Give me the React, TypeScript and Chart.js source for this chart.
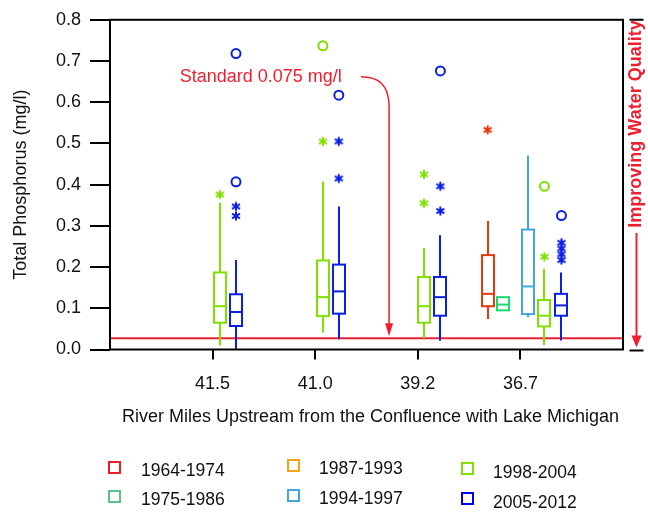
import React, { useEffect, useRef } from 'react';
import { Chart, registerables } from 'chart.js';

Chart.register(...registerables);

// ---------------- DATA ----------------
const categories = ['41.5', '41.0', '39.2', '36.7'];
const seriesNames = ['1964-1974', '1975-1986', '1987-1993', '1994-1997', '1998-2004', '2005-2012'];
const yTickValues = [0, 0.1, 0.2, 0.3, 0.4, 0.5, 0.6, 0.7, 0.8];
const standardValue = 0.027;

// box stats per category: [lower whisker, Q1, median, Q3, upper whisker]
const box1964 = [null, null, null, [0.074, 0.105, 0.135, 0.229, 0.312]];
const box1975 = [null, null, null, [0.095, 0.095, 0.109, 0.127, 0.127]];
const box1987 = [null, null, null, null];
const box1994 = [null, null, null, [0.078, 0.086, 0.153, 0.291, 0.471]];
const box1998 = [
  [0.01, 0.065, 0.105, 0.187, 0.356],
  [0.041, 0.081, 0.127, 0.216, 0.407],
  [0.028, 0.065, 0.105, 0.176, 0.246],
  [0.011, 0.056, 0.082, 0.12, 0.196],
];
const box2005 = [
  [0.002, 0.057, 0.091, 0.134, 0.217],
  [0.025, 0.087, 0.141, 0.206, 0.347],
  [0.021, 0.082, 0.127, 0.176, 0.277],
  [0.022, 0.082, 0.107, 0.135, 0.187],
];

// outliers per category
const circles1998 = [[], [0.737], [], [0.396]];
const stars1998 = [[0.376], [0.505], [0.425, 0.355], [0.225]];
const circles2005 = [[0.718, 0.407], [0.617], [0.676], [0.325]];
const stars2005 = [[0.347, 0.324], [0.505, 0.415], [0.396, 0.336], [0.259, 0.245, 0.231, 0.217]];
const stars1964 = [[], [], [], [0.533]];

// ---------------- LAYOUT / STYLE ----------------
const boxSeries = [box1964, box1975, box1987, box1994, box1998, box2005];
// horizontal offset of each box from its category tick (axis units)
const slotOffsets = [
  [0, 0, 0, -0.32],
  [0, 0, 0, -0.165],
  [0, 0, 0, 0],
  [0, 0, 0, 0.078],
  [0.07, 0.075, 0.06, 0.234],
  [0.228, 0.23, 0.22, 0.4],
];
const plotColors = ['#e8380e', '#18dc72', '#f7a21b', '#45a5dc', '#80e000', '#0a1ee6'];
const legendColors = ['#ec1c2a', '#5cc28a', '#f7a21b', '#45a5dc', '#80e000', '#0000f0'];
const RED = '#ee2030';
const FONT = "'Liberation Sans', Arial, sans-serif";

const legendLayout = [
  { sq: [108, 461], tx: [141, 470] },
  { sq: [108, 490], tx: [141, 499] },
  { sq: [287, 459], tx: [319, 468] },
  { sq: [287, 489], tx: [319, 498] },
  { sq: [461, 462], tx: [493, 471.5] },
  { sq: [461, 492], tx: [493, 502] },
];

function makeStar(color: string) {
  const c = document.createElement('canvas');
  const s = 12;
  c.width = s;
  c.height = s;
  const g = c.getContext('2d')!;
  g.strokeStyle = color;
  g.lineWidth = 2;
  const r = 4.6;
  const cx = s / 2;
  const cy = s / 2;
  for (const a of [90, 30, 150]) {
    const rad = (a * Math.PI) / 180;
    g.beginPath();
    g.moveTo(cx - r * Math.cos(rad), cy - r * Math.sin(rad));
    g.lineTo(cx + r * Math.cos(rad), cy + r * Math.sin(rad));
    g.stroke();
  }
  return c;
}

function pts(series: number[][], si: number) {
  const out: { x: number; y: number }[] = [];
  series.forEach((vals, ci) => vals.forEach((v) => out.push({ x: ci + 1 + slotOffsets[si][ci], y: v })));
  return out;
}

const boxPlugin = {
  id: 'boxes',
  beforeDatasetsDraw(chart: any) {
    const { ctx, chartArea, scales } = chart;
    const x = scales.x;
    const y = scales.y;
    ctx.save();
    // standard line
    const ys = y.getPixelForValue(standardValue);
    ctx.strokeStyle = RED;
    ctx.lineWidth = 2;
    ctx.beginPath();
    ctx.moveTo(chartArea.left, ys);
    ctx.lineTo(chartArea.right, ys);
    ctx.stroke();
    // boxes
    const halfW = 6;
    boxSeries.forEach((arr, si) => {
      arr.forEach((b: any, ci: number) => {
        if (!b) return;
        const cx = Math.round(x.getPixelForValue(ci + 1 + slotOffsets[si][ci]));
        const [lo, q1, md, q3, hi] = b.map((v: number) => y.getPixelForValue(v));
        ctx.strokeStyle = plotColors[si];
        ctx.lineWidth = 2;
        ctx.beginPath();
        if (hi < q3) {
          ctx.moveTo(cx, q3);
          ctx.lineTo(cx, hi);
        }
        if (lo > q1) {
          ctx.moveTo(cx, q1);
          ctx.lineTo(cx, lo);
        }
        ctx.stroke();
        ctx.fillStyle = '#ffffff';
        ctx.fillRect(cx - halfW, q3, halfW * 2, q1 - q3);
        ctx.strokeRect(cx - halfW, q3, halfW * 2, q1 - q3);
        ctx.beginPath();
        ctx.moveTo(cx - halfW, md);
        ctx.lineTo(cx + halfW, md);
        ctx.stroke();
      });
    });
    ctx.restore();
  },
  afterDraw(chart: any) {
    const { ctx, chartArea, scales } = chart;
    const x = scales.x;
    const y = scales.y;
    ctx.save();
    // frame
    ctx.strokeStyle = '#000';
    ctx.lineWidth = 2;
    ctx.strokeRect(chartArea.left, chartArea.top, chartArea.right - chartArea.left, chartArea.bottom - chartArea.top);

    // axis titles
    ctx.fillStyle = '#111';
    ctx.font = `18px ${FONT}`;
    ctx.textAlign = 'center';
    ctx.textBaseline = 'middle';
    ctx.fillText('River Miles Upstream from the Confluence with Lake Michigan', (chartArea.left + chartArea.right) / 2 + 4, chartArea.bottom + 68);
    ctx.save();
    ctx.translate(21, (chartArea.top + chartArea.bottom) / 2);
    ctx.rotate(-Math.PI / 2);
    ctx.fillText('Total Phosphorus (mg/l)', 0, 0);
    ctx.restore();

    // standard annotation
    ctx.fillStyle = RED;
    ctx.strokeStyle = RED;
    ctx.textAlign = 'left';
    ctx.fillText('Standard 0.075 mg/l', x.getPixelForValue(0.68), y.getPixelForValue(0.661));
    const sx = x.getPixelForValue(2.445);
    const sy = y.getPixelForValue(0.662);
    const ax = x.getPixelForValue(2.72);
    const tip = y.getPixelForValue(standardValue) - 2;
    ctx.lineWidth = 1.5;
    ctx.beginPath();
    ctx.moveTo(sx, sy);
    ctx.bezierCurveTo(sx + 18, sy, ax - 1, sy + 8, ax, sy + 28);
    ctx.lineTo(ax, tip - 12);
    ctx.stroke();
    ctx.beginPath();
    ctx.moveTo(ax - 4, tip - 13);
    ctx.lineTo(ax + 4, tip - 13);
    ctx.lineTo(ax, tip);
    ctx.closePath();
    ctx.fill();

    // improving water quality arrow
    const rx = chartArea.right + 13.5;
    ctx.strokeStyle = '#000';
    ctx.lineWidth = 2;
    ctx.beginPath();
    ctx.moveTo(rx - 7, chartArea.top);
    ctx.lineTo(rx + 7, chartArea.top);
    ctx.moveTo(rx - 7, chartArea.bottom + 1);
    ctx.lineTo(rx + 7, chartArea.bottom + 1);
    ctx.stroke();
    ctx.save();
    ctx.translate(rx, 124);
    ctx.rotate(-Math.PI / 2);
    ctx.fillStyle = RED;
    ctx.font = `bold 18px ${FONT}`;
    ctx.textAlign = 'center';
    ctx.textBaseline = 'middle';
    ctx.fillText('Improving Water Quality', 0, 0);
    ctx.restore();
    ctx.strokeStyle = RED;
    ctx.fillStyle = RED;
    ctx.lineWidth = 2;
    ctx.beginPath();
    ctx.moveTo(rx, 233);
    ctx.lineTo(rx, chartArea.bottom - 12);
    ctx.stroke();
    ctx.beginPath();
    ctx.moveTo(rx - 5, chartArea.bottom - 14);
    ctx.lineTo(rx + 5, chartArea.bottom - 14);
    ctx.lineTo(rx, chartArea.bottom - 2);
    ctx.closePath();
    ctx.fill();
    ctx.restore();
  },
};

export default function App() {
  const ref = useRef<HTMLCanvasElement>(null);

  useEffect(() => {
    const canvas = ref.current;
    if (!canvas) return;
    Chart.defaults.font.family = FONT;
    Chart.defaults.color = '#111';

    const circleDs = (vals: number[][], si: number) => ({
      data: pts(vals, si),
      pointStyle: 'circle',
      pointRadius: 4.5,
      borderWidth: 2,
      borderColor: plotColors[si],
      backgroundColor: 'rgba(255,255,255,0)',
      showLine: false,
    });
    const starDs = (vals: number[][], si: number) => ({
      data: pts(vals, si),
      pointStyle: makeStar(plotColors[si]),
      pointRadius: 6,
      borderWidth: 0,
      borderColor: plotColors[si],
      backgroundColor: plotColors[si],
      showLine: false,
    });

    const chart = new Chart(canvas, {
      type: 'scatter',
      data: {
        datasets: [
          circleDs(circles1998, 4),
          starDs(stars1998, 4),
          circleDs(circles2005, 5),
          starDs(stars2005, 5),
          starDs(stars1964, 0),
        ] as any,
      },
      options: {
        responsive: false,
        devicePixelRatio: 1,
        animation: false,
        layout: { padding: { top: 12, right: 25, bottom: 0, left: 0 } },
        plugins: { legend: { display: false }, tooltip: { enabled: false } },
        scales: {
          x: {
            type: 'linear',
            min: 0,
            max: 5,
            afterFit: (s: any) => {
              s.height = 165.5;
            },
            afterBuildTicks: (s: any) => {
              s.ticks = categories.map((_, i) => ({ value: i + 1 }));
            },
            ticks: {
              font: { size: 18 },
              color: '#111',
              padding: 14,
              maxRotation: 0,
              autoSkip: false,
              callback: (v: any) => categories[Number(v) - 1] ?? '',
            },
            grid: { drawOnChartArea: false, drawTicks: true, tickLength: 10, color: '#000', lineWidth: 2 },
            border: { display: false },
          },
          y: {
            type: 'linear',
            min: 0,
            max: 0.8,
            afterFit: (s: any) => {
              s.width = 110;
            },
            afterBuildTicks: (s: any) => {
              s.ticks = yTickValues.map((v) => ({ value: v }));
            },
            ticks: {
              font: { size: 18 },
              color: '#111',
              padding: 9,
              callback: (v: any) => Number(v).toFixed(1),
            },
            grid: { drawOnChartArea: false, drawTicks: true, tickLength: 20, color: '#000', lineWidth: 2 },
            border: { display: false },
          },
        },
      },
      plugins: [boxPlugin],
    } as any);
    return () => chart.destroy();
  }, []);

  return (
    <div style={{ position: 'absolute', left: 0, top: 0, width: 648, height: 515, background: '#fff' }}>
      <canvas ref={ref} width={648} height={515} style={{ position: 'absolute', left: 0, top: 0 }} />
      {seriesNames.map((name, i) => (
        <React.Fragment key={name}>
          <div
            style={{
              position: 'absolute',
              left: legendLayout[i].sq[0],
              top: legendLayout[i].sq[1],
              width: 13,
              height: 13,
              boxSizing: 'border-box',
              border: `2.5px solid ${legendColors[i]}`,
            }}
          />
          <div
            style={{
              position: 'absolute',
              left: legendLayout[i].tx[0],
              top: legendLayout[i].tx[1] - 10,
              height: 20,
              lineHeight: '20px',
              fontFamily: FONT,
              fontSize: 17.5,
              color: '#111',
              whiteSpace: 'nowrap',
            }}
          >
            {name}
          </div>
        </React.Fragment>
      ))}
    </div>
  );
}
